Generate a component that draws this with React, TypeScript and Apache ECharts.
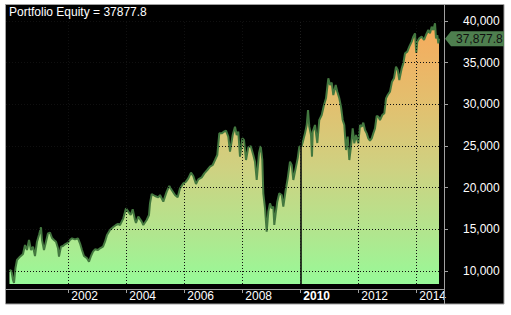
import { useEffect, useRef } from 'react';
import * as echarts from 'echarts';

const years = [
  1999.972, 2000.041, 2000.093, 2000.128, 2000.179, 2000.231, 2000.334, 2000.438, 2000.507, 2000.576,
  2000.645, 2000.714, 2000.783, 2000.852, 2000.921, 2000.990, 2001.059, 2001.093, 2001.162, 2001.231,
  2001.300, 2001.369, 2001.438, 2001.507, 2001.576, 2001.645, 2001.679, 2001.748, 2001.817, 2001.886,
  2001.990, 2002.059, 2002.128, 2002.231, 2002.334, 2002.403, 2002.472, 2002.541, 2002.645, 2002.714,
  2002.783, 2002.852, 2002.921, 2003.024, 2003.093, 2003.197, 2003.266, 2003.334, 2003.438, 2003.541,
  2003.645, 2003.714, 2003.783, 2003.897, 2003.990, 2004.069, 2004.152, 2004.221, 2004.300, 2004.334,
  2004.414, 2004.531, 2004.586, 2004.703, 2004.783, 2004.817, 2004.876, 2004.990, 2005.103, 2005.162,
  2005.276, 2005.393, 2005.483, 2005.566, 2005.679, 2005.772, 2005.852, 2005.966, 2006.059, 2006.138,
  2006.231, 2006.310, 2006.403, 2006.483, 2006.600, 2006.690, 2006.793, 2006.886, 2006.979, 2007.059,
  2007.138, 2007.207, 2007.290, 2007.369, 2007.438, 2007.517, 2007.576, 2007.669, 2007.748, 2007.807,
  2007.862, 2007.921, 2008.000, 2008.059, 2008.128, 2008.207, 2008.290, 2008.379, 2008.438, 2008.497,
  2008.576, 2008.634, 2008.690, 2008.724, 2008.783, 2008.841, 2008.897, 2008.955, 2009.014, 2009.069,
  2009.103, 2009.152, 2009.207, 2009.276, 2009.359, 2009.414, 2009.497, 2009.566, 2009.645, 2009.703,
  2009.759, 2009.852, 2009.910, 2009.966, 2010.048, 2010.103, 2010.162, 2010.221, 2010.266, 2010.310,
  2010.369, 2010.403, 2010.428, 2010.507, 2010.586, 2010.655, 2010.738, 2010.817, 2010.886, 2010.966,
  2011.024, 2011.083, 2011.138, 2011.221, 2011.276, 2011.345, 2011.403, 2011.462, 2011.517, 2011.576,
  2011.634, 2011.690, 2011.748, 2011.807, 2011.862, 2011.921, 2012.000, 2012.059, 2012.117, 2012.172,
  2012.231, 2012.290, 2012.345, 2012.403, 2012.462, 2012.517, 2012.576, 2012.634, 2012.690, 2012.748,
  2012.828, 2012.897, 2012.955, 2013.014, 2013.093, 2013.162, 2013.231, 2013.300, 2013.359, 2013.414,
  2013.497, 2013.552, 2013.610, 2013.690, 2013.759, 2013.841, 2013.897, 2013.955, 2014.000, 2014.034,
  2014.103, 2014.186, 2014.266, 2014.334, 2014.414, 2014.472, 2014.531, 2014.586, 2014.645, 2014.679,
  2014.724, 2014.759, 2014.783,
];

const equity = [
  10120, 10000, 8920, 8560, 10360, 11320, 11720, 12040, 13120, 12520,
  13720, 12520, 12920, 11800, 13520, 14320, 15240, 13720, 12520, 13520,
  14520, 14600, 13960, 13720, 13520, 12720, 11720, 12920, 13000, 13200,
  13400, 13720, 13920, 13800, 13920, 13320, 12520, 11800, 11520, 11120,
  11800, 12320, 12600, 12520, 12720, 12920, 13520, 14320, 14920, 15240,
  15520, 15640, 15520, 16320, 17520, 17120, 16720, 17400, 16120, 15760,
  16520, 15920, 15520, 16120, 16720, 18120, 19240, 19000, 18840, 19120,
  18320, 19520, 20200, 19720, 19120, 18840, 19920, 20520, 20720, 21120,
  21800, 21400, 20440, 21000, 21240, 21720, 22120, 22520, 22720, 23320,
  23920, 26520, 26520, 26720, 26840, 26120, 24320, 26320, 27320, 26320,
  26720, 23720, 25920, 25720, 23320, 24840, 25000, 23920, 23120, 20920,
  24120, 25000, 23320, 19320, 17520, 14720, 17120, 18120, 17520, 17720,
  15520, 16920, 18320, 19320, 19120, 17720, 19720, 21120, 23120, 22720,
  20920, 22520, 23520, 24920, 25000, 25720, 26520, 27520, 29320, 27320,
  26320, 23720, 26720, 27520, 25360, 28120, 28720, 29920, 30720, 33120,
  32320, 32600, 31120, 32320, 31520, 30720, 29720, 28120, 27520, 24520,
  26120, 23320, 24920, 27120, 25320, 26320, 25320, 27520, 27320, 27800,
  26920, 26520, 25920, 25640, 25920, 26520, 27120, 28600, 28520, 28120,
  28720, 28920, 30720, 31120, 31520, 32720, 33120, 34520, 34120, 32920,
  34320, 34920, 36120, 36320, 36920, 37520, 38120, 38520, 36160, 37520,
  37920, 38120, 37720, 38320, 38920, 38520, 39320, 38920, 39720, 37920,
  38320, 37320, 37877.8,
];

const xTicks = [2002, 2004, 2006, 2008, 2010, 2012, 2014];
const yTicks = [10000, 15000, 20000, 25000, 30000, 35000, 40000];
const markerYear = 2010;
const boldYear = 2010;
const xMin = 1999.852;
const xMax = 2014.955;
const yMin = 8440;
const yMax = 40000;
const titleLabel = 'Portfolio Equity';

const FONT = '"Liberation Sans", Arial, sans-serif';

export default function App() {
  const ref = useRef<HTMLDivElement>(null);

  useEffect(() => {
    const chart = echarts.init(ref.current!, null, { renderer: 'svg' });
    const data = years.map((y, i) => [y, equity[i]]);
    const lastYear = years[years.length - 1];
    const last = equity[equity.length - 1];
    const fmtInt = (v: number) => v.toLocaleString('en-US');
    const fmtLast = (v: number) =>
      v.toLocaleString('en-US', { minimumFractionDigits: 1, maximumFractionDigits: 1 });

    const dotted = (color: string) => ({
      symbol: ['none', 'none'],
      silent: true,
      label: { show: false },
      lineStyle: { color, type: [1, 2], width: 1 },
      data: [
        ...yTicks.map((v) => ({ yAxis: v })),
        ...xTicks.map((v) => ({ xAxis: v })),
      ],
    });

    chart.setOption({
      animation: false,
      backgroundColor: '#ffffff',
      grid: { left: 6, right: 67, top: 21, bottom: 31 },
      xAxis: {
        type: 'value',
        min: xMin,
        max: xMax,
        offset: 5,
        axisLine: { show: true, lineStyle: { color: '#a0a0a0', width: 1 } },
        axisTick: { show: true, customValues: xTicks, length: 4, lineStyle: { color: '#a0a0a0' } },
        axisLabel: {
          customValues: xTicks,
          align: 'left',
          padding: [0, 0, 0, 3],
          margin: 1,
          color: '#ffffff',
          fontFamily: FONT,
          fontSize: 12,
          formatter: (v: number) => (v === boldYear ? `{b|${v}}` : String(v)),
          rich: { b: { fontWeight: 'bold', color: '#ffffff', fontFamily: FONT, fontSize: 12 } },
        },
        splitLine: { show: false },
      },
      yAxis: {
        type: 'value',
        position: 'right',
        min: yMin,
        max: yMax,
        axisLine: { show: false },
        axisTick: { show: true, customValues: yTicks, length: 4, lineStyle: { color: '#a0a0a0' } },
        axisLabel: {
          customValues: yTicks,
          margin: 19,
          color: '#ffffff',
          fontFamily: FONT,
          fontSize: 12,
          formatter: (v: number) => fmtInt(v),
        },
        splitLine: { show: false },
      },
      series: [
        {
          type: 'line',
          z: 1,
          data: [],
          markLine: dotted('#7a7a7a'),
        },
        {
          type: 'line',
          z: 2,
          data,
          showSymbol: false,
          symbol: 'none',
          lineStyle: { color: '#43783f', width: 2 },
          areaStyle: {
            opacity: 1,
            color: new echarts.graphic.LinearGradient(0, 0, 0, 1, [
              { offset: 0, color: '#f7aa5c' },
              { offset: 0.3, color: '#e3bf6e' },
              { offset: 0.55, color: '#cfd181' },
              { offset: 0.8, color: '#b2e58e' },
              { offset: 1, color: '#97fa98' },
            ]),
          },
        },
        {
          type: 'line',
          z: 3,
          data: [],
          markLine: {
            ...dotted('#101010'),
            data: [
              ...yTicks.map((v) => ({ yAxis: v })),
              ...xTicks.filter((v) => v !== markerYear).map((v) => ({ xAxis: v })),
            ],
          },
        },
        {
          type: 'line',
          z: 4,
          data: [],
          markLine: {
            symbol: ['none', 'none'],
            silent: true,
            label: { show: false },
            lineStyle: { color: '#000000', type: 'solid', width: 1.5 },
            data: [{ xAxis: markerYear }],
          },
        },
      ],
    });

    const py = chart.convertToPixel({ xAxisIndex: 0, yAxisIndex: 0 }, [lastYear, last])[1];

    chart.setOption({
      graphic: [
        {
          type: 'rect',
          z: -100,
          silent: true,
          shape: { x: 5.5, y: 4.5, width: 498.5, height: 299.5 },
          style: { fill: '#000000', stroke: '#a0a0a0', lineWidth: 1 },
        },
        {
          type: 'line',
          z: 100,
          silent: true,
          shape: { x1: 444.5, y1: 4.5, x2: 444.5, y2: 304 },
          style: { stroke: '#a0a0a0', lineWidth: 1 },
        },
        {
          type: 'text',
          z: 100,
          silent: true,
          x: 9,
          y: 6,
          style: {
            text: `${titleLabel} = ${last}`,
            fill: '#ffffff',
            font: `12px ${FONT}`,
            verticalAlign: 'top',
          },
        },
        {
          type: 'polygon',
          z: 100,
          silent: true,
          shape: {
            points: [
              [445, py],
              [451, py - 7.5],
              [504, py - 7.5],
              [504, py + 7.5],
              [451, py + 7.5],
            ],
          },
          style: { fill: '#4e7f4f' },
        },
        {
          type: 'text',
          z: 101,
          silent: true,
          x: 456,
          y: py,
          style: {
            text: fmtLast(last),
            fill: '#101010',
            font: `12px ${FONT}`,
            verticalAlign: 'middle',
          },
        },
      ],
    });

    return () => chart.dispose();
  }, []);

  return (
    <div
      ref={ref}
      style={{ position: 'fixed', left: 0, top: 0, width: 511, height: 315 }}
    />
  );
}
